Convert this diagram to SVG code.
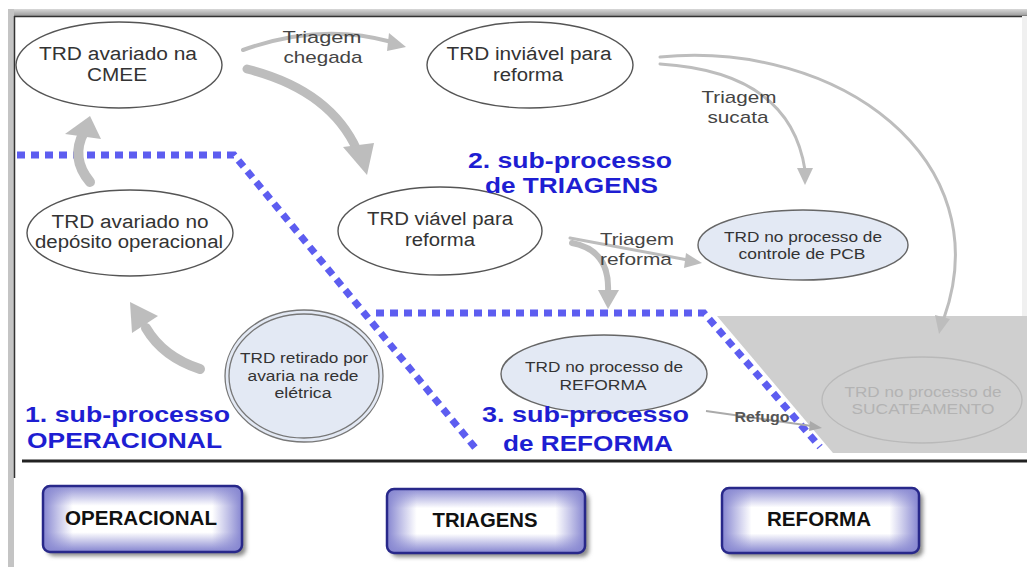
<svg xmlns="http://www.w3.org/2000/svg" width="1027" height="567" viewBox="0 0 1027 567">
<style>
.nd{fill:#fff;stroke:#555;stroke-width:1.4}
.nb{fill:#e3e9f4;stroke:#666;stroke-width:1.4}
.t{font-family:"Liberation Sans",Arial,sans-serif;fill:#333;text-anchor:middle}
.t18{font-size:18px}
.t15{font-size:15px}
.t14{font-size:14px}
.lb{font-family:"Liberation Sans",Arial,sans-serif;font-size:17px;fill:#444;text-anchor:middle}
.ti{font-family:"Liberation Sans",Arial,sans-serif;font-size:22px;font-weight:bold;fill:#1e1ed2}
.bt{font-family:"Liberation Sans",Arial,sans-serif;font-size:20px;font-weight:bold;fill:#111;text-anchor:middle}
.bl{fill:none;stroke:#5d5df0;stroke-width:7;stroke-dasharray:8 6}
.ga{fill:none;stroke:#bdbdbd;stroke-linecap:round}
.gh{fill:#bdbdbd}
</style>
<defs>
<linearGradient id="gv" x1="0" y1="0" x2="0" y2="1">
<stop offset="0" stop-color="#8f8fd4"/><stop offset="0.3" stop-color="#fff"/><stop offset="0.7" stop-color="#fff"/><stop offset="1" stop-color="#8383cf"/>
</linearGradient>
<linearGradient id="gh" x1="0" y1="0" x2="1" y2="0">
<stop offset="0" stop-color="#8585d0" stop-opacity="1"/><stop offset="0.15" stop-color="#8f8fd4" stop-opacity="0"/><stop offset="0.85" stop-color="#8f8fd4" stop-opacity="0"/><stop offset="1" stop-color="#8585d0" stop-opacity="1"/>
</linearGradient>
<linearGradient id="topband" x1="0" y1="0" x2="0" y2="1">
<stop offset="0" stop-color="#d8d8d8"/><stop offset="1" stop-color="#9a9a9a"/>
</linearGradient>
<filter id="sh" x="-10%" y="-10%" width="130%" height="140%"><feGaussianBlur stdDeviation="2"/></filter>
</defs>

<!-- frame -->
<rect x="0" y="0" width="1027" height="567" fill="#fff"/>
<rect x="8" y="9" width="1019" height="7" fill="url(#topband)"/>
<rect x="8" y="9" width="6" height="558" fill="#c4c4c4"/>
<line x1="14" y1="16.5" x2="1027" y2="16.5" stroke="#333" stroke-width="1.5"/>
<line x1="14.5" y1="16" x2="14.5" y2="478" stroke="#333" stroke-width="1.5"/>
<rect x="1022" y="16" width="5" height="300" fill="#f0f0f0"/>

<!-- scrap zone -->
<polygon points="717,316 1027,316 1027,453 833,453" fill="#cfcfcf"/>

<!-- sub-process borders -->
<g id="borders">
<path class="bl" d="M17 155 L234 155 L477 450"/>
<path class="bl" d="M376 313 L704 313 L820 447"/>
</g>
<line x1="22" y1="461" x2="1027" y2="461" stroke="#222" stroke-width="3"/>

<!-- nodes -->
<g id="n-cmee">
<ellipse class="nd" cx="119" cy="65" rx="103" ry="43"/>
<text class="t t18" x="118" y="60" textLength="158" lengthAdjust="spacingAndGlyphs">TRD avariado na</text>
<text class="t t18" x="117" y="81" textLength="60" lengthAdjust="spacingAndGlyphs">CMEE</text>
</g>
<g id="n-deposito">
<ellipse class="nd" cx="130" cy="233" rx="103" ry="43"/>
<text class="t t18" x="130" y="228" textLength="157" lengthAdjust="spacingAndGlyphs">TRD avariado no</text>
<text class="t t18" x="129" y="248" textLength="188" lengthAdjust="spacingAndGlyphs">depósito operacional</text>
</g>
<g id="n-inviavel">
<ellipse class="nd" cx="530" cy="65" rx="103" ry="43"/>
<text class="t t18" x="529" y="60" textLength="165" lengthAdjust="spacingAndGlyphs">TRD inviável para</text>
<text class="t t18" x="528" y="81" textLength="70" lengthAdjust="spacingAndGlyphs">reforma</text>
</g>
<g id="n-viavel">
<ellipse class="nd" cx="440" cy="231" rx="102" ry="44"/>
<text class="t t18" x="440" y="225" textLength="146" lengthAdjust="spacingAndGlyphs">TRD viável para</text>
<text class="t t18" x="440" y="246" textLength="70" lengthAdjust="spacingAndGlyphs">reforma</text>
</g>
<g id="n-pcb">
<ellipse class="nb" cx="803" cy="245" rx="105" ry="35"/>
<text class="t t15" x="803" y="242" textLength="158" lengthAdjust="spacingAndGlyphs">TRD no processo de</text>
<text class="t t15" x="802" y="259" textLength="127" lengthAdjust="spacingAndGlyphs">controle de PCB</text>
</g>
<g id="n-retirado">
<ellipse fill="#e3e9f4" stroke="#777" stroke-width="1.3" cx="304" cy="376" rx="79" ry="66"/>
<ellipse fill="none" stroke="#777" stroke-width="1.3" cx="304" cy="376" rx="75" ry="62"/>
<text class="t t14" x="304" y="363" textLength="128" lengthAdjust="spacingAndGlyphs">TRD retirado por</text>
<text class="t t14" x="303" y="381" textLength="111" lengthAdjust="spacingAndGlyphs">avaria na rede</text>
<text class="t t14" x="303" y="398" textLength="57" lengthAdjust="spacingAndGlyphs">elétrica</text>
</g>
<g id="n-reforma">
<ellipse class="nb" cx="604" cy="374" rx="103" ry="39"/>
<text class="t t15" x="604" y="372" textLength="158" lengthAdjust="spacingAndGlyphs">TRD no processo de</text>
<text class="t t15" x="603" y="390" textLength="87" lengthAdjust="spacingAndGlyphs">REFORMA</text>
</g>
<g id="n-sucateamento">
<ellipse fill="#cfcfcf" stroke="#b9b9b9" stroke-width="1.3" cx="922" cy="400" rx="100" ry="43"/>
<text class="t t15" style="fill:#b3b3b3" x="923" y="397" textLength="157" lengthAdjust="spacingAndGlyphs">TRD no processo de</text>
<text class="t t15" style="fill:#b3b3b3" x="923" y="414" textLength="143" lengthAdjust="spacingAndGlyphs">SUCATEAMENTO</text>
</g>

<!-- connectors -->
<g id="connectors">
<path class="ga" stroke-width="10" d="M90 182 Q70 158 84 132"/>
<polygon class="gh" points="90,116 65,134 101,139"/>
<path class="ga" stroke-width="10" d="M200 369 Q163 357 146 328"/>
<polygon class="gh" points="130,302 132,333 158,316"/>
<path class="ga" stroke-width="9" d="M247 69 Q330 90 357 150"/>
<polygon class="gh" points="367,175 343,147 374,143"/>
<path class="ga" stroke-width="4" d="M243 50 Q320 22 392 42"/>
<polygon class="gh" points="406,47 389,33 387,51"/>
<path class="ga" stroke-width="3" d="M660 64 Q790 72 805 170"/>
<polygon class="gh" points="805,185 797,168 813,168"/>
<path class="ga" stroke-width="3" d="M660 57 C840 40 1000 160 944 318"/>
<polygon class="gh" points="939,334 935,315 950,319"/>
<path class="ga" stroke-width="3" d="M570 238 L688 260"/>
<polygon class="gh" points="702,263 686,253 684,268"/>
<path class="ga" stroke-width="6" d="M572 243 Q610 250 608 292"/>
<polygon class="gh" points="608,309 598,290 619,290"/>
<path fill="none" stroke="#aaa" stroke-width="2" d="M706 411 L812 426"/>
<polygon fill="#aaa" points="822,428 810,421 809,431"/>
</g>

<!-- connector labels -->
<text class="lb" x="322" y="43" textLength="79" lengthAdjust="spacingAndGlyphs">Triagem</text>
<text class="lb" x="323" y="63" textLength="79" lengthAdjust="spacingAndGlyphs">chegada</text>
<text class="lb" x="739" y="103" textLength="75" lengthAdjust="spacingAndGlyphs">Triagem</text>
<text class="lb" x="738" y="123" textLength="61" lengthAdjust="spacingAndGlyphs">sucata</text>
<text class="lb" x="637" y="245" textLength="74" lengthAdjust="spacingAndGlyphs">Triagem</text>
<text class="lb" x="636" y="265" textLength="72" lengthAdjust="spacingAndGlyphs">reforma</text>
<text class="lb" style="font-size:14px;font-weight:bold;fill:#555" x="762" y="422" textLength="55" lengthAdjust="spacingAndGlyphs">Refugo</text>

<!-- sub-process titles -->
<text class="ti" x="468" y="168" textLength="204" lengthAdjust="spacingAndGlyphs">2. sub-processo</text>
<text class="ti" x="485" y="193" textLength="173" lengthAdjust="spacingAndGlyphs">de TRIAGENS</text>
<text class="ti" x="25" y="422" textLength="205" lengthAdjust="spacingAndGlyphs">1. sub-processo</text>
<text class="ti" x="27" y="448" textLength="195" lengthAdjust="spacingAndGlyphs">OPERACIONAL</text>
<text class="ti" x="482" y="422" textLength="207" lengthAdjust="spacingAndGlyphs">3. sub-processo</text>
<text class="ti" x="503" y="451" textLength="170" lengthAdjust="spacingAndGlyphs">de REFORMA</text>

<!-- bottom buttons -->
<g id="b-operacional">
<rect x="47" y="490" width="199" height="66" rx="7" fill="#888" filter="url(#sh)"/>
<rect x="43" y="486" width="199" height="66" rx="7" fill="url(#gv)"/>
<rect x="43" y="486" width="199" height="66" rx="7" fill="url(#gh)" stroke="#28288a" stroke-width="2.5"/>
<text class="bt" x="141" y="525" textLength="152" lengthAdjust="spacingAndGlyphs">OPERACIONAL</text>
</g>
<g id="b-triagens">
<rect x="391" y="493" width="198" height="64" rx="7" fill="#888" filter="url(#sh)"/>
<rect x="387" y="489" width="198" height="64" rx="7" fill="url(#gv)"/>
<rect x="387" y="489" width="198" height="64" rx="7" fill="url(#gh)" stroke="#28288a" stroke-width="2.5"/>
<text class="bt" x="485" y="527" textLength="105" lengthAdjust="spacingAndGlyphs">TRIAGENS</text>
</g>
<g id="b-reforma">
<rect x="726" y="492" width="197" height="65" rx="7" fill="#888" filter="url(#sh)"/>
<rect x="722" y="488" width="197" height="65" rx="7" fill="url(#gv)"/>
<rect x="722" y="488" width="197" height="65" rx="7" fill="url(#gh)" stroke="#28288a" stroke-width="2.5"/>
<text class="bt" x="819" y="526" textLength="104" lengthAdjust="spacingAndGlyphs">REFORMA</text>
</g>
</svg>
